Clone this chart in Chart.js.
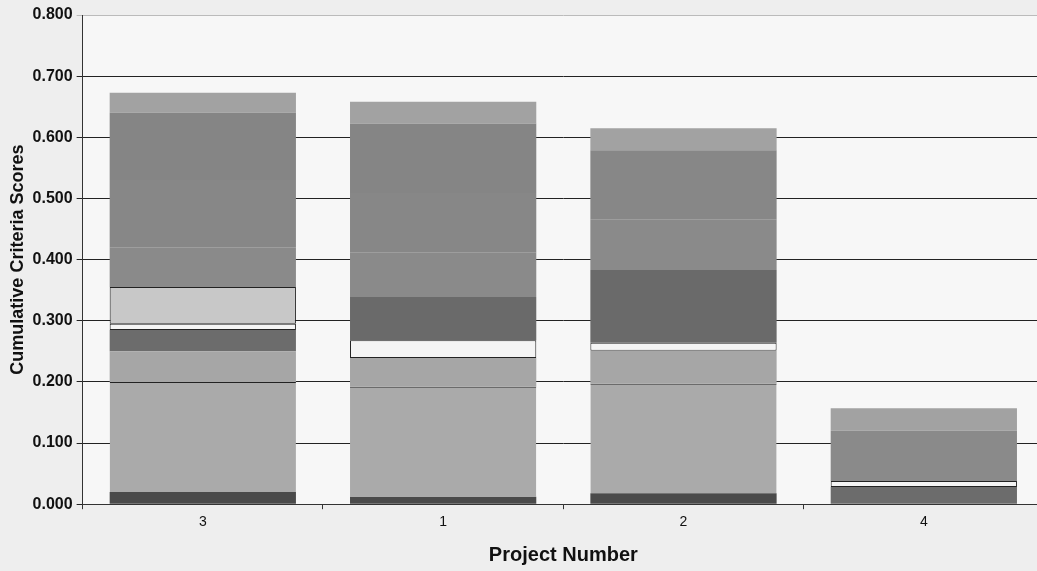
<!DOCTYPE html>
<html>
<head>
<meta charset="utf-8">
<script src="https://cdn.jsdelivr.net/npm/chart.js@4/dist/chart.umd.min.js"></script>
<style>
  html, body { margin: 0; padding: 0; background: #eeeeee; overflow: hidden; }
  #wrap { width: 1044px; height: 571px; }
</style>
</head>
<body>
<div id="wrap"><canvas id="scoreChart" width="1044" height="571"></canvas></div>
<script>
// Проекты в порядке на графике
const projects = ['3', '1', '2', '4'];

// Вклад каждого критерия (снизу вверх)
const crit1 = [0.020, 0.012, 0.018, 0.028];
const crit2 = [0.180, 0.180, 0.179, 0];
const crit3 = [0.050, 0.047, 0.054, 0];
const crit4 = [0.035, 0, 0, 0];
const crit5 = [0.010, 0.029, 0.013, 0.010];
const crit6 = [0.060, 0, 0, 0];
const crit7 = [0, 0.071, 0.119, 0];
const crit8 = [0.065, 0.072, 0.082, 0.082];
const crit9 = [0.110, 0.098, 0.114, 0];
const crit10 = [0.110, 0.113, 0, 0];
const crit11 = [0.033, 0.036, 0.036, 0.037];

const yTicks = [0, 0.1, 0.2, 0.3, 0.4, 0.5, 0.6, 0.7, 0.8];

function seg(data, color, border) {
  return {
    data: data,
    backgroundColor: color,
    borderColor: '#222',
    borderWidth: border || 0,
    borderSkipped: false,
    categoryPercentage: 1.0,
    barPercentage: 0.775
  };
}

// Заливка фона
const bgPlugin = {
  id: 'bg',
  beforeDraw(chart) {
    const { ctx, chartArea: a } = chart;
    ctx.save();
    ctx.fillStyle = '#eeeeee';
    ctx.fillRect(0, 0, chart.width, chart.height);
    ctx.fillStyle = '#f7f7f7';
    ctx.fillRect(a.left, a.top, a.right - a.left, a.bottom - a.top);
    ctx.restore();
  }
};

const ctx = document.getElementById('scoreChart').getContext('2d');
new Chart(ctx, {
  type: 'bar',
  data: {
    labels: projects,
    datasets: [
      seg(crit1, ['#4a4a4a', '#4a4a4a', '#4a4a4a', '#6c6c6c']),
      seg(crit2, '#aaaaaa', { top: 1, left: 0, right: 0, bottom: 0 }),
      seg(crit3, '#a6a6a6'),
      seg(crit4, '#6c6c6c'),
      seg(crit5, '#f4f4f4', 1),
      seg(crit6, '#c8c8c8', 1),
      seg(crit7, '#6a6a6a'),
      seg(crit8, '#8a8a8a'),
      seg(crit9, '#878787'),
      seg(crit10, '#858585'),
      seg(crit11, '#a2a2a2')
    ]
  },
  options: {
    responsive: false,
    animation: false,
    layout: { padding: { top: 15, right: 0, bottom: 4, left: 7 } },
    plugins: {
      legend: { display: false },
      tooltip: { enabled: false }
    },
    scales: {
      x: {
        stacked: true,
        grid: {
          offset: true,
          drawOnChartArea: false,
          color: '#333',
          tickLength: 5
        },
        border: { color: '#333' },
        ticks: {
          color: '#111',
          font: { family: 'Liberation Sans', size: 14 },
          padding: 5
        },
        title: {
          display: true,
          text: 'Project Number',
          color: '#111',
          font: { family: 'Liberation Sans', size: 20, weight: 'bold' },
          padding: { top: 7, bottom: 0 }
        }
      },
      y: {
        stacked: true,
        min: 0,
        max: 0.8,
        afterBuildTicks(axis) {
          axis.ticks = yTicks.map(v => ({ value: v }));
        },
        grid: {
          color: ctx => ctx.tick && ctx.tick.value === 0.8 ? '#bbbbbb' : '#222',
          lineWidth: 1,
          tickLength: 6
        },
        border: { color: '#333' },
        ticks: {
          color: '#111',
          font: { family: 'Liberation Sans', size: 16, weight: 'bold' },
          padding: 4,
          callback: function (value) {
            return Number(value).toFixed(3);
          }
        },
        title: {
          display: true,
          text: 'Cumulative Criteria Scores',
          color: '#111',
          font: { family: 'Liberation Sans', size: 18, weight: 'bold' },
          padding: { top: 0, bottom: 0 }
        }
      }
    }
  },
  plugins: [bgPlugin]
});
</script>
</body>
</html>
